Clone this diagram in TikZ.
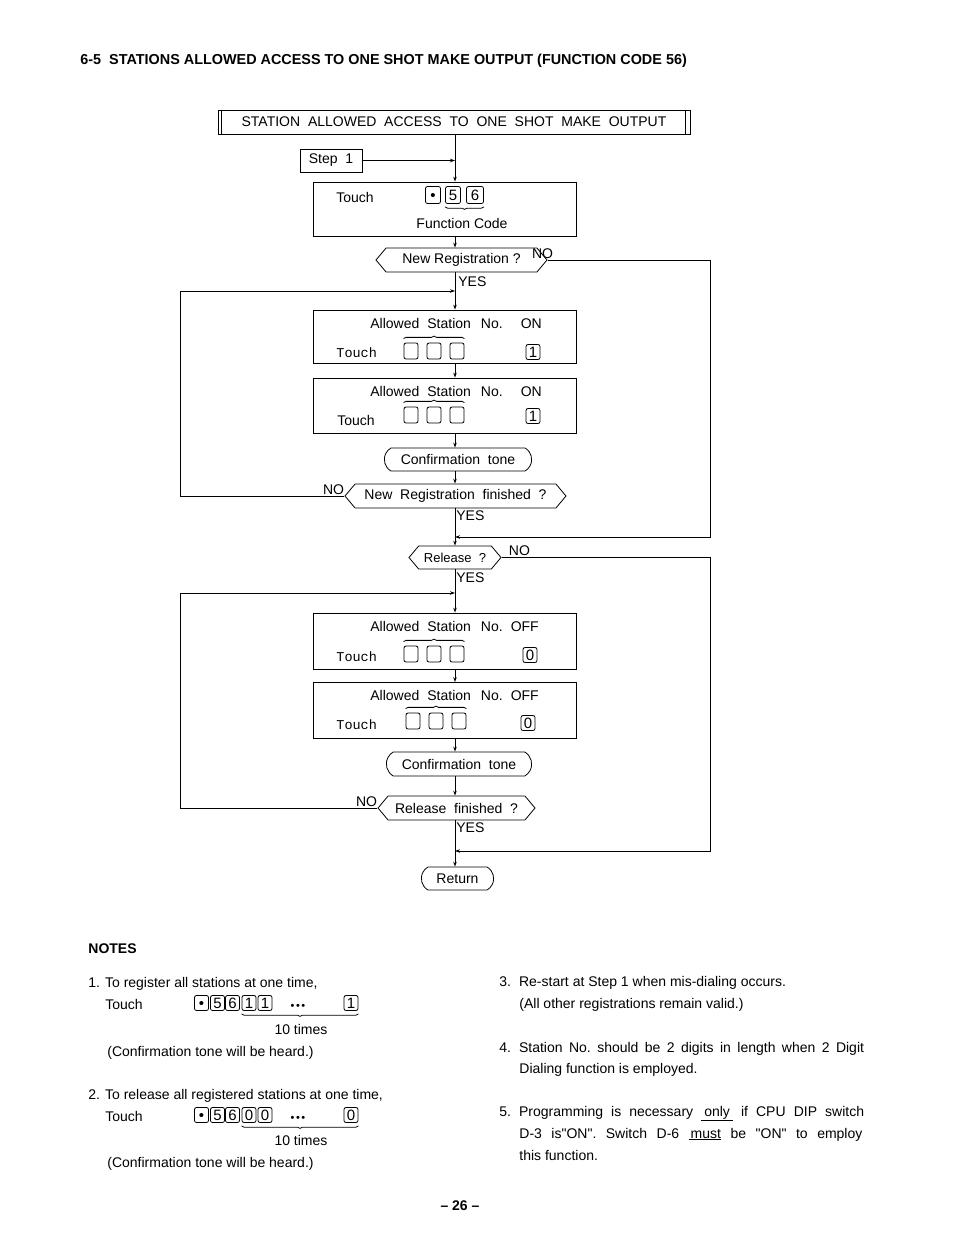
\documentclass[tikz,border=0pt]{standalone}
\usepackage{fontspec}
\setmainfont{Liberation Sans}
\newfontfamily\touchfont{Liberation Mono}
\usetikzlibrary{positioning,arrows.meta,shapes.symbols,shapes.misc,decorations.pathreplacing}
\frenchspacing

\begin{document}
\begin{tikzpicture}[
    x=1pt, y=-1pt,
    line width=0.8pt,
    font=\fontsize{14}{16}\selectfont,
    procbox/.style={draw, minimum width=263pt, inner sep=0pt},
    decision/.style={draw, shape=signal, signal to=west and east, signal pointer angle=100, minimum height=24pt, inner xsep=2pt, inner ysep=0pt},
    terminal/.style={draw, rounded rectangle, rounded rectangle arc length=120, minimum height=23pt, inner ysep=0pt},
    keycap/.style={draw, rounded corners=2pt, minimum width=14pt, minimum height=15pt, inner sep=0pt, text height=10.5pt, text depth=0pt, font=\fontsize{15}{15}\selectfont},
    blank/.style={keycap, minimum height=16pt},
    flow/.style={-{Stealth[length=5pt,width=3.5pt]}},
    lbl/.style={inner sep=1pt},
    txt/.style={anchor=base west, inner sep=0pt},
    keybrace/.style={decorate, decoration={brace, amplitude=2.5pt}},
  ]
  \path[fill=white, use as bounding box] (0,0) rectangle (954,1235);

  % Title
  \node[txt, font=\fontsize{14.4}{16}\selectfont\bfseries] (title) at (80,64)
    {6-5~~STATIONS ALLOWED ACCESS TO ONE SHOT MAKE OUTPUT (FUNCTION CODE 56)};

  % Header
  \node[draw, minimum width=472pt, minimum height=24pt, inner sep=0pt] (hdr) at (454,122)
    {STATION~~ALLOWED~~ACCESS~~TO~~ONE~~SHOT~~MAKE~~OUTPUT};
  \draw ([xshift=4pt]hdr.north west) -- ([xshift=4pt]hdr.south west);
  \draw ([xshift=-5pt]hdr.north east) -- ([xshift=-5pt]hdr.south east);

  % Rails
  \coordinate (spine) at (455,0);
  \coordinate (lrail) at (180,0);
  \coordinate (rrail) at (710,0);
  \coordinate (jon) at (455,291);
  \coordinate (jrel) at (455,537);
  \coordinate (joff) at (455,593);
  \coordinate (jend) at (455,851);

  % Step 1 / function code
  \node[draw, minimum width=62pt, minimum height=23pt, inner sep=0pt] (step) at (331,160.5) {Step~~1};
  \node[procbox, minimum height=54pt] (fc) at (444.5,209) {};
  \node[txt] (fctouch) at (336,202) {Touch};
  \node[keycap, minimum width=15pt, minimum height=17pt] (fcdot) at (433,195) {\textbullet};
  \node[keycap, minimum width=15pt, minimum height=17pt] (fcfive) at (453,195) {5};
  \node[keycap, minimum width=17pt, minimum height=17pt] (fcsix) at (475,195) {6};
  \draw[keybrace] ([yshift=-3pt]fcsix.south east) -- ([yshift=-3pt]fcfive.south west);
  \node (fclbl) at (462,223) {Function~Code};

  % New registration
  \node[decision, minimum width=171pt] (dreg) at (461.5,260) {New Registration ?};
  \node[lbl, anchor=south] (noreg) at ([xshift=-5pt]dreg.east) {NO};
  \node[lbl, anchor=west] (yesreg) at (457,282) {YES};

  \node[procbox, minimum height=53pt] (onA) at (444.5,336.5) {};
  \node[txt] (onAtxt) at (370,328) {Allowed\hspace{8pt}Station\hspace{10pt}No.\hspace{18pt}ON};
  \node[txt, font=\fontsize{13.5}{16}\touchfont] (onAtouch) at (336,357) {Touch};
  \node[blank] (onAa) at (411,351) {};
  \node[blank] (onAb) at (434,351) {};
  \node[blank] (onAc) at (457,351) {};
  \node[keycap] (onAkey) at (533,352) {1};
  \draw[keybrace] ([yshift=4pt]onAa.north west) -- ([yshift=4pt]onAc.north east);

  \node[procbox, minimum height=55pt] (onB) at (444.5,405.5) {};
  \node[txt] (onBtxt) at (370,396) {Allowed\hspace{8pt}Station\hspace{10pt}No.\hspace{18pt}ON};
  \node[txt] (onBtouch) at (337,425) {Touch};
  \node[blank] (onBa) at (411,415) {};
  \node[blank] (onBb) at (434,415) {};
  \node[blank] (onBc) at (457,415) {};
  \node[keycap] (onBkey) at (533,416) {1};
  \draw[keybrace] ([yshift=4pt]onBa.north west) -- ([yshift=4pt]onBc.north east);

  \node[terminal, minimum width=154pt] (toneA) at (458,459.5) {Confirmation~~tone};
  \node[decision, minimum width=221pt] (dfin) at (455.5,496) {New~~Registration~~finished~~?};
  \node[lbl, anchor=south east] (nofin) at ([xshift=1pt]dfin.west) {NO};
  \node[lbl, anchor=west] (yesfin) at (455,516) {YES};

  % Release
  \node[decision, minimum width=92pt, minimum height=23pt, font=\fontsize{13}{16}\selectfont] (drel) at (455,557.5) {Release~~?};
  \node[lbl, anchor=south west] (norel) at ([xshift=6pt]drel.east) {NO};
  \node[lbl, anchor=west] (yesrel) at (455,578) {YES};

  \node[procbox, minimum height=56pt] (offA) at (444.5,641) {};
  \node[txt] (offAtxt) at (370,631) {Allowed\hspace{8pt}Station\hspace{10pt}No.\hspace{8pt}OFF};
  \node[txt, font=\fontsize{13.5}{16}\touchfont] (offAtouch) at (336,661) {Touch};
  \node[blank] (offAa) at (411,654) {};
  \node[blank] (offAb) at (434,654) {};
  \node[blank] (offAc) at (457,654) {};
  \node[keycap] (offAkey) at (530,655) {0};
  \draw[keybrace] ([yshift=4pt]offAa.north west) -- ([yshift=4pt]offAc.north east);

  \node[procbox, minimum height=56pt] (offB) at (444.5,710.5) {};
  \node[txt] (offBtxt) at (370,700) {Allowed\hspace{8pt}Station\hspace{10pt}No.\hspace{8pt}OFF};
  \node[txt, font=\fontsize{13.5}{16}\touchfont] (offBtouch) at (336,729) {Touch};
  \node[blank] (offBa) at (413,721) {};
  \node[blank] (offBb) at (436,721) {};
  \node[blank] (offBc) at (459,721) {};
  \node[keycap] (offBkey) at (528,723) {0};
  \draw[keybrace] ([yshift=4pt]offBa.north west) -- ([yshift=4pt]offBc.north east);

  \node[terminal, minimum width=152pt, minimum height=24pt] (toneB) at (459,764) {Confirmation~~tone};
  \node[decision, minimum width=157pt] (drf) at (456.5,808) {Release~~finished~~?};
  \node[lbl, anchor=south east] (norf) at ([xshift=1pt]drf.west) {NO};
  \node[lbl, anchor=west] (yesrf) at (455,828) {YES};

  \node[terminal, minimum width=79pt] (ret) at (457.5,878.5) {Return};

  % Edges
  \draw[flow] (hdr.south -| spine) -- (fc.north -| spine);
  \draw[flow] (step.east) -- (step.east -| spine);
  \draw[flow] (fc.south -| spine) -- (dreg.north -| spine);
  \draw[flow] (dreg.south -| spine) -- (onA.north -| spine);
  \draw[flow] (onA.south -| spine) -- (onB.north -| spine);
  \draw[flow] (onB.south -| spine) -- (toneA.north -| spine);
  \draw[flow] (toneA.south -| spine) -- (dfin.north -| spine);
  \draw[flow] (dfin.south -| spine) -- (drel.north -| spine);
  \draw[flow] (drel.south -| spine) -- (offA.north -| spine);
  \draw[flow] (offA.south -| spine) -- (offB.north -| spine);
  \draw[flow] (offB.south -| spine) -- (toneB.north -| spine);
  \draw[flow] (toneB.south -| spine) -- (drf.north -| spine);
  \draw[flow] (drf.south -| spine) -- (ret.north -| spine);

  % Loops
  \draw[flow] (dfin.west) -- (dfin.west -| lrail) -- (lrail |- jon) -- (jon);
  \draw[flow] (drf.west) -- (drf.west -| lrail) -- (lrail |- joff) -- (joff);
  \draw[flow] (dreg.east) -- (dreg.east -| rrail) -- (rrail |- jrel) -- (jrel);
  \draw[flow] (drel.east) -- (drel.east -| rrail) -- (rrail |- jend) -- (jend);

  % Notes
  \node[txt, font=\fontsize{14}{16}\selectfont\bfseries] (notes) at (88,953) {NOTES};
  \node[txt] (noteA) at (88,987) {1.\hspace{5pt}To register all stations at one time,};
  \node[txt] (noteAtouch) at (105,1009) {Touch};
  \foreach \k/\x [count=\i] in {\textbullet/201.5, 5/217.5, 6/232.5, 1/249, 1/265, 1/351}
    \node[keycap] (ka\i) at (\x,1003) {\k};
  \node[inner sep=0pt, font=\fontsize{11}{11}\selectfont] (kadots) at (298,1007) {\textbullet\hspace{1.5pt}\textbullet\hspace{1.5pt}\textbullet};
  \draw[keybrace] ([yshift=-3pt]ka6.south east) -- ([yshift=-3pt]ka4.south west);
  \node[anchor=base] (katimes) at (301,1034) {10 times};
  \node[txt] (noteAtone) at (107,1056) {(Confirmation tone will be heard.)};

  \node[txt] (noteB) at (88,1099) {2.\hspace{5pt}To release all registered stations at one time,};
  \node[txt] (noteBtouch) at (105,1121) {Touch};
  \foreach \k/\x [count=\i] in {\textbullet/201.5, 5/217.5, 6/232.5, 0/249, 0/265, 0/351}
    \node[keycap] (kb\i) at (\x,1115) {\k};
  \node[inner sep=0pt, font=\fontsize{11}{11}\selectfont] (kbdots) at (298,1119) {\textbullet\hspace{1.5pt}\textbullet\hspace{1.5pt}\textbullet};
  \draw[keybrace] ([yshift=-3pt]kb6.south east) -- ([yshift=-3pt]kb4.south west);
  \node[anchor=base] (kbtimes) at (301,1145) {10 times};
  \node[txt] (noteBtone) at (107,1167) {(Confirmation tone will be heard.)};

  \node[txt] (noteC) at (499,986) {3.\hspace{8pt}Re-start at Step 1 when mis-dialing occurs.};
  \node[txt] (noteCb) at (519,1008) {(All other registrations remain valid.)};
  \node[txt] (noteD) at (499,1052) {4.\hspace{8pt}\makebox[345pt][s]{Station No. should be 2 digits in length when 2 Digit}};
  \node[txt] (noteDb) at (519,1073) {Dialing function is employed.};
  \node[txt] (noteE) at (499,1116) {5.\hspace{8pt}\makebox[345pt][s]{Programming is necessary \underline{\hspace{3pt}only\hspace{3pt}} if CPU DIP switch}};
  \node[txt] (noteEb) at (519,1138) {\makebox[343pt][s]{D-3 is\textquotedbl ON\textquotedbl. Switch D-6 \underline{\hspace{2pt}must} be \textquotedbl ON\textquotedbl\ to employ}};
  \node[txt] (noteEc) at (519,1160) {this function.};

  \node[font=\fontsize{14}{16}\selectfont\bfseries] (pageno) at (460,1206) {-- 26 --};
\end{tikzpicture}
\end{document}
